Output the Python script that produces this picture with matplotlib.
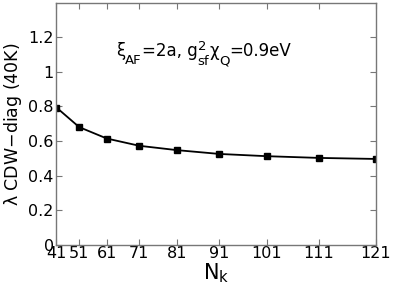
import numpy as np
import matplotlib
matplotlib.use("Agg")
import matplotlib.pyplot as plt
from matplotlib.transforms import IdentityTransform

plt.rcParams['font.family'] = ['DejaVu Sans']
plt.rcParams['mathtext.fontset'] = 'dejavusans'
plt.rcParams['mathtext.default'] = 'regular'

# datos
nk = [41, 51, 61, 71, 81, 91, 101, 111, 121]
lam = [0.794, 0.681, 0.615, 0.573, 0.548, 0.526, 0.513, 0.503, 0.497]
yticks = [0, 0.2, 0.4, 0.6, 0.8, 1, 1.2]
ytick_labels = ["0", "0.2", "0.4", "0.6", "0.8", "1", "1.2"]

# eje x proporcional a Nk^2 (numero de puntos k)
x = np.array(nk) ** 2

fig = plt.figure(figsize=(3.95, 2.92), dpi=100)
ax = fig.add_axes([0.143, 0.161, 0.809, 0.830])
ax.plot(x, lam, color="black", lw=1.3, marker="s", ms=4, mfc="black")
ax.set_xlim(x[0], x[-1])
ax.set_ylim(0, 1.4)
ax.set_xticks(x)
ax.set_xticklabels([str(n) for n in nk])
ax.set_yticks(yticks)
ax.set_yticklabels(ytick_labels)
ax.tick_params(direction="in", top=True, right=True, length=4, width=0.8,
               color="#777777", labelsize=11.5)
ax.tick_params(axis="x", pad=1)
ax.tick_params(axis="y", pad=2)
for s in ax.spines.values():
    s.set_color("#777777")
    s.set_linewidth(1)
ax.set_xlabel(r"N$_k$", fontsize=15, labelpad=0)
ax.set_ylabel(r"$\lambda$ CDW$-$diag (40K)", fontsize=12.5, labelpad=3)

# texto con subindices armado por partes (pixeles)
r = fig.canvas.get_renderer()
base = 292 - 56
xpos = 116
piezas = [("ξ", 12, 0, True), ("AF", 9.5, -8, True), ("=2a, g", 12, 0, True),
          ("2", 9.5, 6, False), ("sf", 9.5, -9, True), ("χ", 12, 0, True),
          ("Q", 9.5, -8, True), ("=0.9eV", 12, 0, True)]
for txt, size, dy, avanza in piezas:
    t = fig.text(xpos, base + dy, txt, fontsize=size, transform=IdentityTransform(),
                 va="baseline", ha="left")
    if avanza:
        xpos += t.get_window_extent(r).width

fig.savefig("out.png", dpi=100)
